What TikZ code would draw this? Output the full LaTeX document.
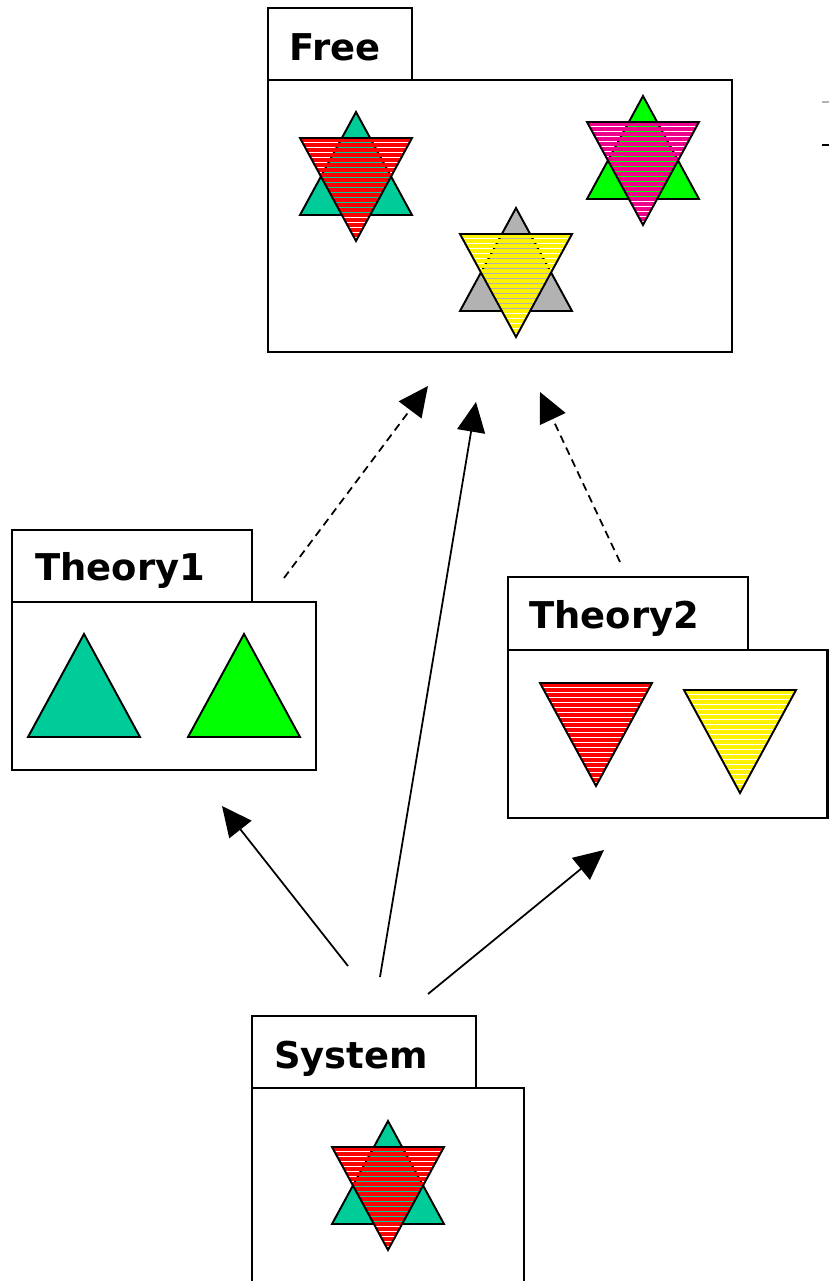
\documentclass[tikz,border=0pt]{standalone}
\usepackage{fontspec}
\setmainfont{DejaVu Sans}
\usetikzlibrary{arrows.meta}

\definecolor{teal}{RGB}{0,204,153}
\definecolor{lime}{RGB}{0,255,0}
\definecolor{grayfill}{RGB}{178,178,178}

% up triangle: centre x, apex y, colour
\newcommand\uptri[3]{\draw[tri, fill=#3] (#1,#2) -- (#1+56,#2+103) -- (#1-56,#2+103) -- cycle;}
% striped down triangle: centre x, top y, colour
\newcommand\downtri[3]{%
	\begin{scope}
		\clip (#1-56,#2) -- (#1+56,#2) -- (#1,#2+103) -- cycle;
		\foreach \k in {0,...,20}
			\draw[#3, line width=2.1pt] (#1-60,#2+2+\k*5) -- (#1+60,#2+2+\k*5);
	\end{scope}
	\draw[tri] (#1-56,#2) -- (#1+56,#2) -- (#1,#2+103) -- cycle;}
\newcommand\startri[4]{\uptri{#1}{#2}{#3}\downtri{#1}{#2+26}{#4}}

\begin{document}
\begin{tikzpicture}[x=0.02cm, y=-0.02cm,
	every node/.style={font=\bfseries\fontsize{21}{25}\selectfont, inner sep=0pt},
	box/.style={line width=1.3pt},
	tri/.style={line width=1.1pt, line join=miter},
	dep/.style={line width=1pt, -{Triangle[length=17pt, width=16pt]}},
	weak/.style={dep, dash pattern=on 4.5pt off 3pt}]
	\clip (0,0) rectangle (829,1281);

	% Free
	\draw[box] (268,8) rectangle (412,80);
	\draw[box] (268,80) rectangle (732,352);
	\node[anchor=base west] (free) at (289,60) {Free};
	\startri{356}{112}{teal}{red}
	\startri{643}{96}{lime}{magenta}
	\startri{516}{208}{grayfill}{yellow}
	\draw[gray!60, line width=0.6pt] (822,102) -- (829,102);
	\draw[line width=0.6pt] (822,145) -- (829,145);

	% Theory1
	\draw[box] (12,530) rectangle (252,602);
	\draw[box] (12,602) rectangle (316,770);
	\node[anchor=base west] (theoryA) at (35,580) {Theory1};
	\uptri{84}{634}{teal}
	\uptri{244}{634}{lime}

	% Theory2
	\draw[box] (508,577) rectangle (748,650);
	\draw[box] (508,650) rectangle (827.5,818);
	\node[anchor=base west] (theoryB) at (529,628) {Theory2};
	\downtri{596}{683}{red}
	\downtri{740}{690}{yellow}

	% System
	\draw[box] (252,1016) rectangle (476,1088);
	\draw[box] (252,1088) rectangle (524,1300);
	\node[anchor=base west] (system) at (274,1068) {System};
	\startri{388}{1121}{teal}{red}

	% arrow ends
	\coordinate (t1out) at (284,578);
	\coordinate (t2out) at (620,562);
	\coordinate (freeA) at (428,386);
	\coordinate (freeB) at (476,402);
	\coordinate (freeC) at (540,392);
	\coordinate (t1in) at (222,806);
	\coordinate (t2in) at (604,850);
	\coordinate (sysA) at (348,966);
	\coordinate (sysB) at (380,977);
	\coordinate (sysC) at (428,994);

	\draw[weak] (t1out) -- (freeA);
	\draw[weak] (t2out) -- (freeC);
	\draw[dep] (sysB) -- (freeB);
	\draw[dep] (sysA) -- (t1in);
	\draw[dep] (sysC) -- (t2in);
\end{tikzpicture}
\end{document}
